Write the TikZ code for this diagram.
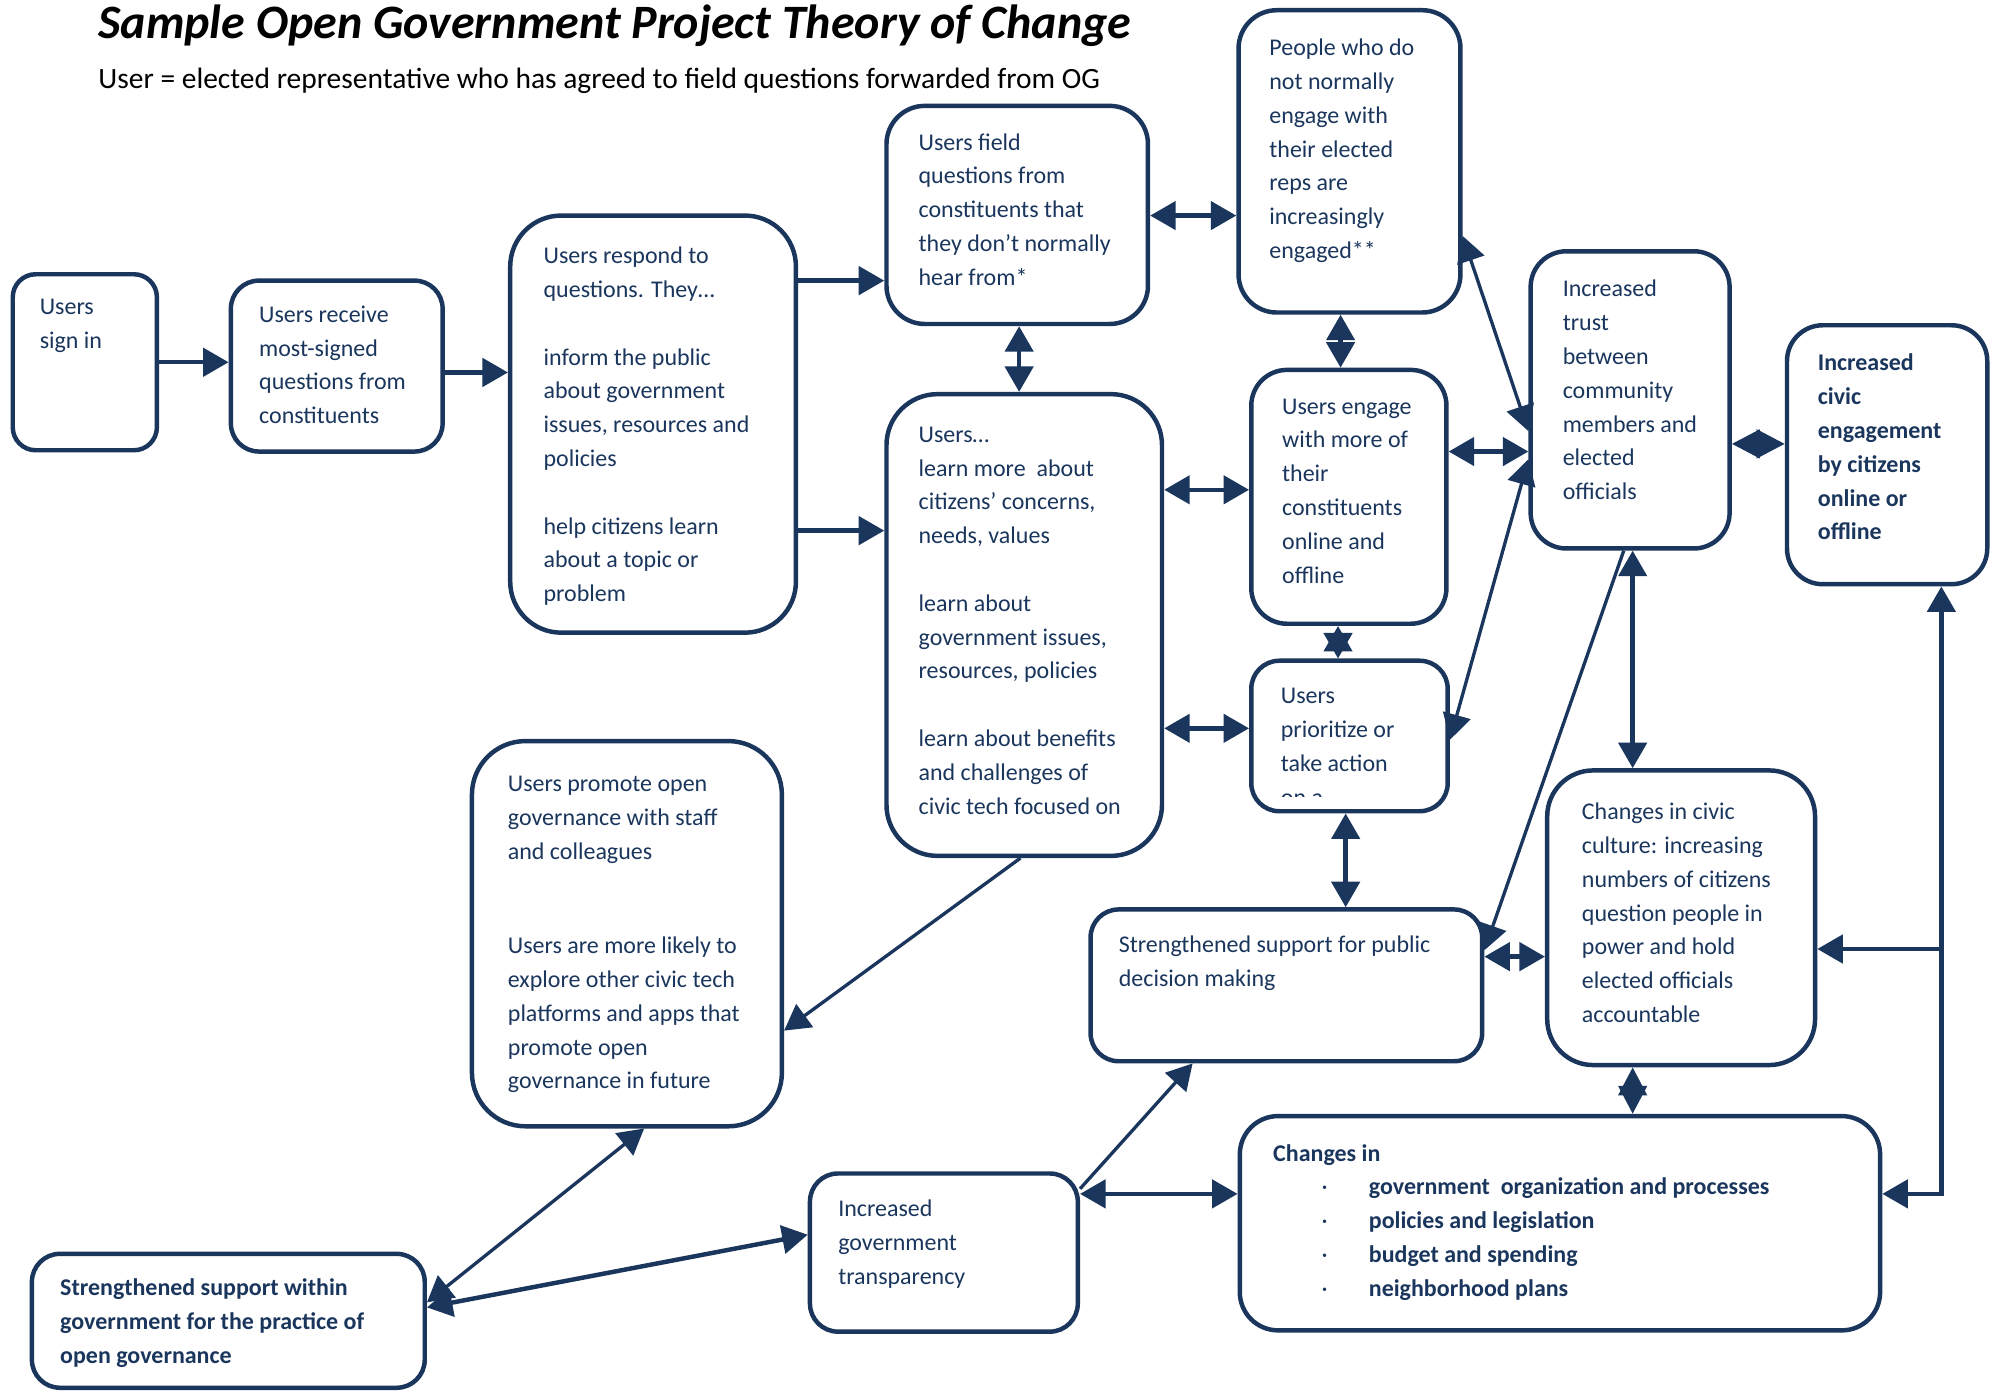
\documentclass[tikz,border=0pt]{standalone}
\usepackage{fontspec}
\setmainfont{Carlito}
\usetikzlibrary{arrows.meta}
\definecolor{navy}{RGB}{26,54,93}
\newcommand{\bodyf}{\fontsize{18.8pt}{26.5pt}\selectfont}
\newcommand{\fl}{\rule{0pt}{17pt}}
\begin{document}
\begin{tikzpicture}[x=1pt,y=-1pt,
  box/.style={draw=navy, line width=3.5pt, rounded corners=#1, inner sep=0pt, fill=white},
  box/.default=24pt,
  txt/.style={anchor=north west, inner sep=0pt, align=left, text=navy, font=\bodyf},
  btxt/.style={txt, font=\bodyf\bfseries},
  arr/.style={draw=navy, line width=3.5pt, -{Triangle[length=20pt,width=22pt]}},
  dbl/.style={draw=navy, line width=3.5pt, {Triangle[length=20pt,width=22pt]}-{Triangle[length=20pt,width=22pt]}},
  dia/.style={draw=navy, line width=3.5pt, {Triangle[length=22pt,width=22pt]}-{Triangle[length=22pt,width=22pt]}},
  tarr/.style={arr, line width=2.6pt},
  tdbl/.style={dbl, line width=2.6pt},
]
\useasboundingbox (0,0) rectangle (1568,1090);
\fill[white] (0,0) rectangle (1568,1090);

% title
\node[anchor=base west, inner sep=0pt, font=\fontsize{37.6pt}{42pt}\selectfont\bfseries\itshape] (title) at (77,30) {Sample Open Government Project Theory of Change};
\node[anchor=base west, inner sep=0pt, font=\fontsize{23.1pt}{27pt}\selectfont] (subtitle) at (77,69) {User = elected representative who has agreed to field questions forwarded from OG};

% boxes
\node[box=18pt, minimum width=113pt, minimum height=138pt] (signin) at (66.5,284) {};
\node[box=22pt, minimum width=166pt, minimum height=134pt] (receive) at (264,287) {};
\node[box=40pt, minimum width=224pt, minimum height=327pt] (respond) at (512,332.5) {};
\node[box=30pt, minimum width=205pt, minimum height=171pt] (field) at (797.5,168.5) {};
\node[box=30pt, minimum width=174pt, minimum height=237pt] (people) at (1058,126.5) {};
\node[box=40pt, minimum width=216pt, minimum height=362pt] (learn) at (803,490) {};
\node[box=28pt, minimum width=153pt, minimum height=199pt] (engage) at (1057.5,389.5) {};
\node[box=22pt, minimum width=154pt, minimum height=118pt] (prior) at (1058,577) {};
\node[box=28pt, minimum width=156pt, minimum height=233pt] (trust) at (1278,313.5) {};
\node[box=28pt, minimum width=157pt, minimum height=203pt] (civic) at (1479.5,356.5) {};
\node[box=42pt, minimum width=243pt, minimum height=302pt] (promote) at (491.5,732) {};
\node[box=22pt, minimum width=307pt, minimum height=119pt] (public) at (1008.5,772.5) {};
\node[box=36pt, minimum width=210pt, minimum height=231pt] (culture) at (1318,719.5) {};
\node[box=22pt, minimum width=210pt, minimum height=124pt] (transp) at (740,982) {};
\node[box=30pt, minimum width=502pt, minimum height=168pt] (changes) at (1223,959) {};
\node[box=22pt, minimum width=308pt, minimum height=105pt] (within) at (179,1035.5) {};

% texts
\node[txt] (t-signin) at (31,229.5) {\fl Users\\sign in};
\node[txt] (t-receive) at (203,235.5) {\fl Users receive\\most-signed\\questions from\\constituents};
\node[txt] (t-respond) at (426,189.5) {\fl Users respond to\\questions. They…\\ \\inform the public\\about government\\issues, resources and\\policies\\ \\help citizens learn\\about a topic or\\problem};
\node[txt] (t-field) at (720,100.5) {\fl Users field\\questions from\\constituents that\\they don’t normally\\hear from*};
\node[txt] (t-people) at (995,26.5) {\fl People who do\\not normally\\engage with\\their elected\\reps are\\increasingly\\engaged**};
\node[txt] (t-learn) at (720,329.5) {\fl Users…\\learn more~ about\\citizens’ concerns,\\needs, values\\ \\learn about\\government issues,\\resources, policies\\ \\learn about benefits\\and challenges of\\civic tech focused on};
\node[txt] (t-engage) at (1005,307.5) {\fl Users engage\\with more of\\their\\constituents\\online and\\offline};
\begin{scope}
\clip (990,525) rectangle (1130,624.5);
\node[txt] (t-prior) at (1004,534.5) {\fl Users\\prioritize or\\take action\\on a};
\end{scope}
\node[txt] (t-trust) at (1225,215.5) {\fl Increased\\trust\\between\\community\\members and\\elected\\officials};
\node[btxt] (t-civic) at (1425,273.5) {\fl Increased\\civic\\engagement\\by citizens\\online or\\offline};
\node[txt] (t-promote) at (398,603.5) {\fl Users promote open\\governance with staff\\and colleagues\\[47.5pt]Users are more likely to\\explore other civic tech\\platforms and apps that\\promote open\\governance in future};
\node[txt] (t-public) at (877,729.5) {\fl Strengthened support for public\\decision making};
\node[txt] (t-culture) at (1240,625.5) {\fl Changes in civic\\culture: increasing\\numbers of citizens\\question people in\\power and hold\\elected officials\\accountable};
\node[txt] (t-transp) at (657,936.5) {\fl Increased\\government\\transparency};
\node[btxt] (t-changes) at (998,893.5) {\fl Changes in};
\node[txt] (t-bullets) at (1036,919.5) {\fl ·\\·\\·\\·};
\node[btxt] (t-items) at (1073,919.5) {\fl government~ organization and processes\\policies and legislation\\budget and spending\\neighborhood plans};
\node[btxt] (t-within) at (47,998.5) {\fl Strengthened support within\\government for the practice of\\open governance};

% connectors
\draw[arr] (signin.east |- 0,284) -- (receive.west |- 0,284);
\draw[arr] (receive.east |- 0,292) -- (respond.west |- 0,292);
\draw[arr] (respond.east |- 0,220) -- (field.west |- 0,220);
\draw[arr] (respond.east |- 0,416) -- (learn.west |- 0,416);
\draw[dbl] (field.east |- 0,169) -- (people.west |- 0,169);
\draw[dbl] (799,0 |- field.south) -- (799,0 |- learn.north);
\draw[dbl] (1051,0 |- people.south) -- (1051,0 |- engage.north);
\draw[dbl] (learn.east |- 0,384) -- (engage.west |- 0,384);
\draw[dbl] (learn.east |- 0,571) -- (prior.west |- 0,571);
\draw[dbl] (1049,0 |- engage.south) -- (1049,0 |- prior.north);
\draw[dbl] (engage.east |- 0,354) -- (trust.west |- 0,354);
\draw[tdbl] (people.east |- 0,185) -- (trust.west |- 0,338);
\draw[tdbl] (trust.west |- 0,360) -- (prior.east |- 0,580);
\draw[dia] (trust.east |- 0,348) -- (civic.west |- 0,348);
\draw[dbl] (1280,0 |- trust.south) -- (1280,0 |- culture.north);
\draw[tarr] (1273,0 |- trust.south) -- (public.east |- 0,745);
\draw[dbl] (public.east |- 0,750) -- (culture.west |- 0,750);
\draw[dbl] (1055,0 |- prior.south) -- (1055,0 |- public.north);
\draw[dia] (1280,0 |- culture.south) -- (1280,0 |- changes.north);
\coordinate (rj) at (1522,936);
\coordinate (cj) at (1522,744);
\draw[dbl] (changes.east |- rj) -- (rj) -- (rj |- civic.south);
\draw[arr] (cj) -- (culture.east |- cj);
\draw[tarr] (800,0 |- learn.south) -- (promote.east |- 0,808);
\draw[tdbl] (505,0 |- promote.south) -- (within.east |- 0,1021);
\draw[dbl] (within.east |- 0,1025) -- (transp.west |- 0,968);
\draw[tarr] (transp.east |- 0,932) -- (935,0 |- public.south);
\draw[dbl] (transp.east |- 0,936) -- (changes.west |- 0,936);
\end{tikzpicture}
\end{document}
